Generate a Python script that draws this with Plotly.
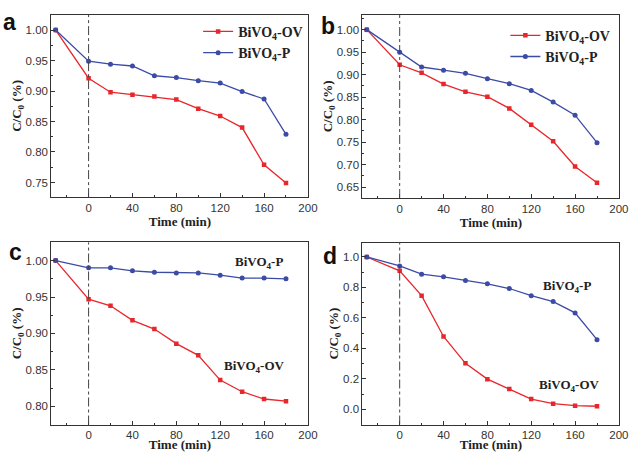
import plotly.graph_objects as go
from plotly.subplots import make_subplots

# time points (min)
time = [-30, 0, 20, 40, 60, 80, 100, 120, 140, 160, 180]

# panel a
a_ov = [1.00, 0.921, 0.898, 0.894, 0.891, 0.886, 0.871, 0.859, 0.840, 0.779, 0.749]
a_p = [1.00, 0.949, 0.944, 0.941, 0.925, 0.922, 0.917, 0.913, 0.899, 0.887, 0.829]
# panel b
b_ov = [1.00, 0.922, 0.904, 0.879, 0.862, 0.851, 0.825, 0.789, 0.752, 0.696, 0.660]
b_p = [1.00, 0.950, 0.917, 0.910, 0.903, 0.891, 0.880, 0.865, 0.839, 0.810, 0.749]
# panel c
c_ov = [1.00, 0.947, 0.938, 0.918, 0.906, 0.886, 0.870, 0.836, 0.820, 0.810, 0.807]
c_p = [1.00, 0.990, 0.990, 0.986, 0.984, 0.983, 0.983, 0.980, 0.976, 0.976, 0.975]
# panel d
d_ov = [1.00, 0.909, 0.746, 0.478, 0.302, 0.198, 0.133, 0.067, 0.037, 0.024, 0.020]
d_p = [1.00, 0.941, 0.887, 0.870, 0.846, 0.824, 0.793, 0.746, 0.707, 0.633, 0.457]

panels = [("a", a_ov, a_p), ("b", b_ov, b_p), ("c", c_ov, c_p), ("d", d_ov, d_p)]
y_ranges = [[0.726, 1.025], [0.626, 1.033], [0.775, 1.025], [-0.1, 1.093]]
y_dticks = [0.05, 0.05, 0.05, 0.2]
y_formats = [".2f", ".2f", ".2f", ".1f"]

RED = "#e8262b"
BLUE = "#3b4ba6"
AX = "#333333"
SERIF = "Liberation Serif"
SANS = "Liberation Sans"
W, H = 636, 452

fig = make_subplots(rows=2, cols=2)

x_domains = [[0.0818, 0.492], [0.578, 0.988], [0.0818, 0.492], [0.578, 0.988]]
y_domains = [[0.560, 0.967], [0.558, 0.967], [0.0524, 0.459], [0.0524, 0.458]]
# panel letter anchors in px from top-left
letter_pos = [(10, 22), (333, 26), (16, 254), (335, 258)]

for i, (lab, ov, p) in enumerate(panels):
    row, col = i // 2 + 1, i % 2 + 1
    leg = "legend" if i == 0 else "legend2"
    show = i < 2
    fig.add_trace(go.Scatter(
        x=time, y=ov, mode="lines+markers", name="BiVO<sub>4</sub>-OV",
        line=dict(color=RED, width=1.3),
        marker=dict(symbol="square", size=4.5, color=RED),
        showlegend=show, legend=leg,
    ), row=row, col=col)
    fig.add_trace(go.Scatter(
        x=time, y=p, mode="lines+markers", name="BiVO<sub>4</sub>-P",
        line=dict(color=BLUE, width=1.3),
        marker=dict(symbol="circle", size=5, color=BLUE),
        showlegend=show, legend=leg,
    ), row=row, col=col)

    sfx = "" if i == 0 else str(i + 1)
    fig.update_layout({
        "xaxis" + sfx: dict(
            domain=x_domains[i], range=[-34, 200.5], tick0=0, dtick=40,
            ticks="inside", ticklen=4, tickcolor=AX,
            minor=dict(dtick=20, ticks="inside", ticklen=2, tickcolor=AX),
            showline=True, mirror=True, linecolor=AX, linewidth=1,
            showgrid=False, zeroline=False,
            tickfont=dict(family=SANS, size=11.5, color=AX),
            title=dict(text="Time (min)", standoff=2,
                       font=dict(family=SERIF, size=13, color="#222", weight="bold")),
        ),
        "yaxis" + sfx: dict(
            domain=y_domains[i], range=y_ranges[i], dtick=y_dticks[i],
            tickformat=y_formats[i],
            ticks="inside", ticklen=4, tickcolor=AX,
            minor=dict(dtick=y_dticks[i] / 2, ticks="inside", ticklen=2, tickcolor=AX),
            showline=True, mirror=True, linecolor=AX, linewidth=1,
            showgrid=False, zeroline=False,
            tickfont=dict(family=SANS, size=11.5, color=AX),
            title=dict(text="C/C<sub>0</sub> (%)", standoff=0,
                       font=dict(family=SERIF, size=13, color="#222", weight="bold")),
        ),
    })
    fig.add_shape(type="line", xref="x" + sfx, yref="y" + sfx + " domain",
                  x0=0, x1=0, y0=0, y1=1,
                  line=dict(color="#444", width=1, dash="dashdot"))
    # panel letter
    lx, ly = letter_pos[i]
    fig.add_annotation(text="<b>" + lab + "</b>", xref="paper", yref="paper",
                       x=lx / W, y=1 - ly / H,
                       xanchor="center", yanchor="middle", showarrow=False,
                       font=dict(family=SANS, size=23, color="#111"))

# inline labels for panels c and d
labels = [
    ("x3", "y3", 155, 0.998, "BiVO<sub>4</sub>-P"),
    ("x3", "y3", 151, 0.855, "BiVO<sub>4</sub>-OV"),
    ("x4", "y4", 153, 0.806, "BiVO<sub>4</sub>-P"),
    ("x4", "y4", 155, 0.154, "BiVO<sub>4</sub>-OV"),
]
for xr, yr, x, y, t in labels:
    fig.add_annotation(text="<b>" + t + "</b>", xref=xr, yref=yr, x=x, y=y,
                       showarrow=False,
                       font=dict(family=SERIF, size=13, color="#222"))

leg_style = dict(bgcolor="rgba(0,0,0,0)", borderwidth=0, xanchor="left", yanchor="top",
                 font=dict(family=SERIF, size=14, color="#222", weight="bold"),
                 tracegroupgap=0, itemwidth=30)
fig.update_layout(
    width=W, height=H,
    margin=dict(l=0, r=0, t=0, b=0),
    paper_bgcolor="white", plot_bgcolor="white",
    legend=dict(x=0.316, y=0.9646, **leg_style),
    legend2=dict(x=0.806, y=0.956, **leg_style),
)

# drop the browser's default body margin so the figure sits at the page corner
fig.write_html("out.html", config={"displayModeBar": False},
               post_script="document.body.style.margin='0';")
